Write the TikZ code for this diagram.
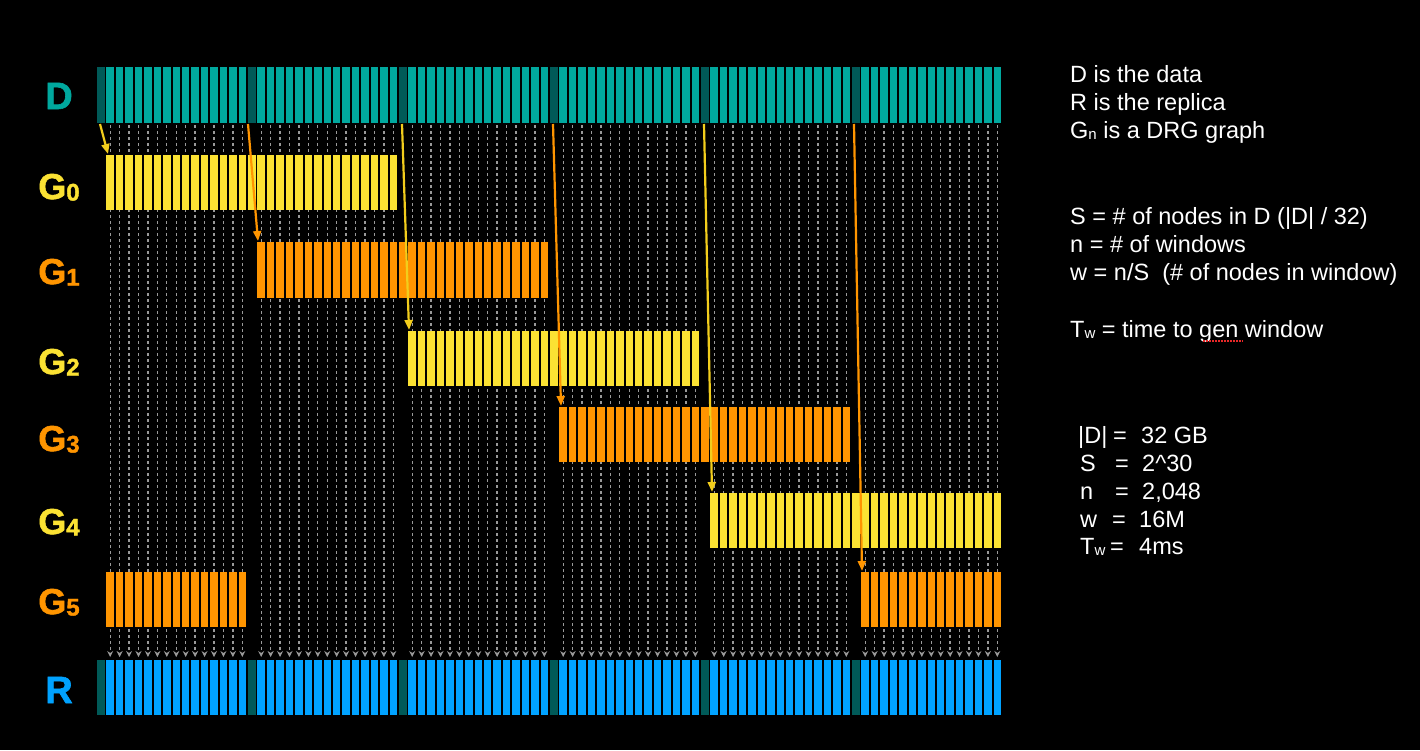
\documentclass[tikz,border=0pt]{standalone}
\usepackage{fontspec}
\setmainfont{Liberation Sans}
\newfontfamily\heavyfont{Liberation Sans}[BoldFeatures={FakeBold=1.6}]
\usetikzlibrary{arrows.meta}
\definecolor{teallight}{HTML}{00A89E}
\definecolor{tealdark}{HTML}{005A58}
\definecolor{gyellow}{HTML}{FBE233}
\definecolor{ayellow}{HTML}{F2CD1C}
\definecolor{gorange}{HTML}{FF9500}
\definecolor{rblue}{HTML}{00A2FF}
\definecolor{dotgray}{HTML}{9A9A9A}
\definecolor{squig}{HTML}{E82828}
\newcommand\gsubs[1]{\raisebox{-1.5pt}{\fontsize{24}{24}\selectfont #1}}
\newcommand\tsubs[1]{\raisebox{-1.5pt}{\fontsize{15}{15}\selectfont #1}}
\newcommand\growstripes[5]{%
  \foreach \i in {#1,...,#2}{\fill[#5] ({97+\i*9.4375},#3) rectangle ({97+\i*9.4375+7.5},#4);}}
\begin{document}
\begin{tikzpicture}[x=1pt,y=-1pt,
  lbl/.style={font=\heavyfont\bfseries\fontsize{38}{38}\selectfont, anchor=base, inner sep=0pt},
  glbl/.style={font=\heavyfont\bfseries\fontsize{36}{36}\selectfont, anchor=base, inner sep=0pt},
  info/.style={font=\fontsize{23.5}{23.5}\selectfont, text=white, anchor=base west, inner sep=0pt},
  dotline/.style={draw=dotgray, line width=1.3pt, dash pattern=on 3pt off 3pt, -{Stealth[length=6pt,width=6pt]}},
  feed/.style={line width=2.2pt, -{Triangle[length=10pt,width=8pt]}}]
\fill[black] (0,0) rectangle (1420,750);
\useasboundingbox (0,0) rectangle (1420,750);
% dotted guide lines
\foreach \i in {0,...,95}{
  \pgfmathtruncatemacro\mm{mod(\i,16)}
  \ifnum\mm>0
    \draw[dotline] ({97+\i*9.4375+3.75},125) -- ({97+\i*9.4375+3.75},657);
  \fi
}
% D and R bars
\foreach \i in {0,...,95}{
  \pgfmathtruncatemacro\mm{mod(\i,16)}
  \ifnum\mm=0
    \fill[tealdark] ({97+\i*9.4375},67) rectangle ({97+\i*9.4375+8},123);
    \fill[tealdark] ({97+\i*9.4375},660) rectangle ({97+\i*9.4375+8},715);
  \else
    \fill[teallight] ({97+\i*9.4375},67) rectangle ({97+\i*9.4375+7.5},123);
    \fill[rblue] ({97+\i*9.4375},660) rectangle ({97+\i*9.4375+7.5},715);
  \fi
}
% G bars
\growstripes{1}{31}{155}{210}{gyellow}
\growstripes{17}{47}{242}{298}{gorange}
\growstripes{33}{63}{331}{386}{gyellow}
\growstripes{49}{79}{407}{462}{gorange}
\growstripes{65}{95}{493}{548}{gyellow}
\growstripes{1}{15}{572}{627}{gorange}
\growstripes{81}{95}{572}{627}{gorange}
% feed arrows
\coordinate (s0) at (100,124); \coordinate (e0) at (108,154);
\coordinate (s1) at (248,124); \coordinate (e1) at (258,241);
\coordinate (s2) at (402,124); \coordinate (e2) at (409,330);
\coordinate (s3) at (553,124); \coordinate (e3) at (561,406);
\coordinate (s4) at (704,124); \coordinate (e4) at (712,492);
\coordinate (s5) at (854,124); \coordinate (e5) at (862,571);
\draw[feed, ayellow] (s0) -- (e0);
\draw[feed, gorange] (s1) -- (e1);
\draw[feed, ayellow] (s2) -- (e2);
\draw[feed, gorange] (s3) -- (e3);
\draw[feed, ayellow] (s4) -- (e4);
\draw[feed, gorange] (s5) -- (e5);
% row labels
\node[lbl, text=teallight] (lD) at (59,109) {D};
\node[glbl, text=gyellow] (lG0) at (59,199) {G\gsubs{0}};
\node[glbl, text=gorange] (lG1) at (59,284) {G\gsubs{1}};
\node[glbl, text=gyellow] (lG2) at (59,374) {G\gsubs{2}};
\node[glbl, text=gorange] (lG3) at (59,451) {G\gsubs{3}};
\node[glbl, text=gyellow] (lG4) at (59,534) {G\gsubs{4}};
\node[glbl, text=gorange] (lG5) at (59,614) {G\gsubs{5}};
\node[lbl, text=rblue] (lR) at (59,703) {R};
% legend text
\node[info] (t1) at (1070,82) {D is the data};
\node[info] (t2) at (1070,110) {R is the replica};
\node[info] (t3) at (1070,138) {G\tsubs{n} is a DRG graph};
\node[info] (t4) at (1070,224) {S = \# of nodes in D (|D| / 32)};
\node[info] (t5) at (1070,252) {n = \# of windows};
\node[info] (t6) at (1070,280) {w = n/S\ \ (\# of nodes in window)};
\node[info] (t7) at (1070,337) {T\tsubs{w} = time to gen window};
\draw[squig, line width=1.2pt, dash pattern=on 1.5pt off 1.5pt] (1203,341) -- (1243,341);
% values
\node[info] (v1a) at (1078,443) {|D|};
\node[info] (v1b) at (1113,443) {=};
\node[info] (v1c) at (1141,443) {32 GB};
\node[info] (v2a) at (1080,471) {S};
\node[info] (v2b) at (1115,471) {=};
\node[info] (v2c) at (1142,471) {2\^{}30};
\node[info] (v3a) at (1080,499) {n};
\node[info] (v3b) at (1115,499) {=};
\node[info] (v3c) at (1142,499) {2,048};
\node[info] (v4a) at (1080,527) {w};
\node[info] (v4b) at (1112,527) {=};
\node[info] (v4c) at (1139,527) {16M};
\node[info] (v5a) at (1080,554) {T\tsubs{w}};
\node[info] (v5b) at (1110,554) {=};
\node[info] (v5c) at (1139,554) {4ms};
\end{tikzpicture}
\end{document}
